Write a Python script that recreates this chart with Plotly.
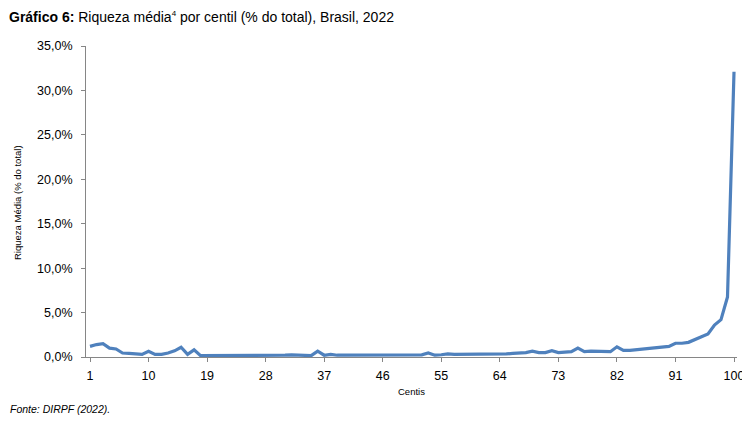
import plotly.graph_objects as go

centis = list(range(1, 101))
riqueza = [
    1.2, 1.4, 1.5, 1.0, 0.9, 0.45, 0.4, 0.35, 0.3, 0.65,
    0.3, 0.3, 0.45, 0.7, 1.1, 0.3, 0.8, 0.15, 0.15, 0.15,
    0.15, 0.15, 0.15, 0.15, 0.15, 0.15, 0.15, 0.15, 0.15, 0.15,
    0.2, 0.25, 0.2, 0.15, 0.15, 0.65, 0.2, 0.3, 0.2, 0.2,
    0.2, 0.2, 0.2, 0.2, 0.2, 0.2, 0.2, 0.25, 0.2, 0.2,
    0.25, 0.25, 0.45, 0.2, 0.25, 0.35, 0.3, 0.3, 0.3, 0.3,
    0.3, 0.35, 0.35, 0.35, 0.35, 0.4, 0.45, 0.5, 0.65, 0.5,
    0.5, 0.7, 0.5, 0.55, 0.6, 1.0, 0.6, 0.65, 0.65, 0.6,
    0.6, 1.15, 0.75, 0.75, 0.82, 0.85, 0.9, 0.97, 1.05, 1.2,
    1.55, 1.55, 1.65, 1.95, 2.25, 2.6, 3.6, 4.2, 6.75, 32.1,
]
x_ticks = [1, 10, 19, 28, 37, 46, 55, 64, 73, 82, 91, 100]
y_ticks = [0, 5, 10, 15, 20, 25, 30, 35]
y_ticklabels = ["0,0%", "5,0%", "10,0%", "15,0%", "20,0%", "25,0%", "30,0%", "35,0%"]

title_text = ("<b>Gráfico 6:</b> Riqueza média<sup><span style='font-size:8px'>4</span></sup>"
              " por centil (% do total), Brasil, 2022")
y_title = "Riqueza Média (% do total)"
x_title = "Centis"
source_text = "<i>Fonte: DIRPF (2022).</i>"

FONT = "Liberation Sans, Arial, sans-serif"
OFF = 8  # page body margin
W, H = 750 - OFF, 422 - OFF
L, R, T, B = 86 - OFF, 13, 46 - OFF, 65
PW, PH = W - L - R, H - T - B

def px_x(x):  # reference pixel x -> paper x
    return (x - OFF - L) / PW

def px_y(y):  # reference pixel y -> paper y
    return 1 - (y - OFF - T) / PH

fig = go.Figure()
fig.add_trace(go.Scatter(
    x=centis, y=riqueza, mode="lines",
    line=dict(color="#4F81BD", width=3.2),
    cliponaxis=False, showlegend=False,
))

axis_color = "#868686"
fig.update_layout(
    width=W, height=H,
    margin=dict(l=L, r=R, t=T, b=B, autoexpand=False),
    paper_bgcolor="white", plot_bgcolor="white",
    font=dict(family=FONT, color="black", size=12),
    xaxis=dict(
        range=[0.385, 100.46], tickmode="array", tickvals=x_ticks,
        ticktext=[str(v) for v in x_ticks], automargin=False,
        showgrid=False, zeroline=False, showline=True, linecolor=axis_color, linewidth=1,
        ticks="outside", ticklen=4, tickcolor=axis_color, ticklabelstandoff=3,
        tickfont=dict(size=12.5, family=FONT, color="black"),
    ),
    yaxis=dict(
        range=[0, 35], tickmode="array", tickvals=y_ticks, ticktext=y_ticklabels,
        automargin=False,
        showgrid=False, zeroline=False, showline=True, linecolor=axis_color, linewidth=1,
        ticks="outside", ticklen=4, tickcolor=axis_color, ticklabelstandoff=6,
        tickfont=dict(size=12.5, family=FONT, color="black"),
    ),
)

fig.add_annotation(
    text=title_text, xref="paper", yref="paper", x=px_x(8), y=px_y(OFF),
    xanchor="left", yanchor="top", showarrow=False, borderpad=0,
    font=dict(size=14, family=FONT, color="black"),
)
fig.add_annotation(
    text=y_title, xref="paper", yref="paper", x=px_x(18), y=px_y(203),
    xanchor="center", yanchor="middle", showarrow=False, textangle=-90,
    font=dict(size=9.5, family=FONT, color="black"),
)
fig.add_annotation(
    text=x_title, xref="paper", yref="paper", x=px_x(411), y=px_y(391),
    xanchor="center", yanchor="middle", showarrow=False,
    font=dict(size=9.5, family=FONT, color="black"),
)
fig.add_annotation(
    text=source_text, xref="paper", yref="paper", x=px_x(8), y=px_y(409),
    xanchor="left", yanchor="middle", showarrow=False,
    font=dict(size=10.5, family=FONT, color="black"),
)

fig.write_html("out.html")
